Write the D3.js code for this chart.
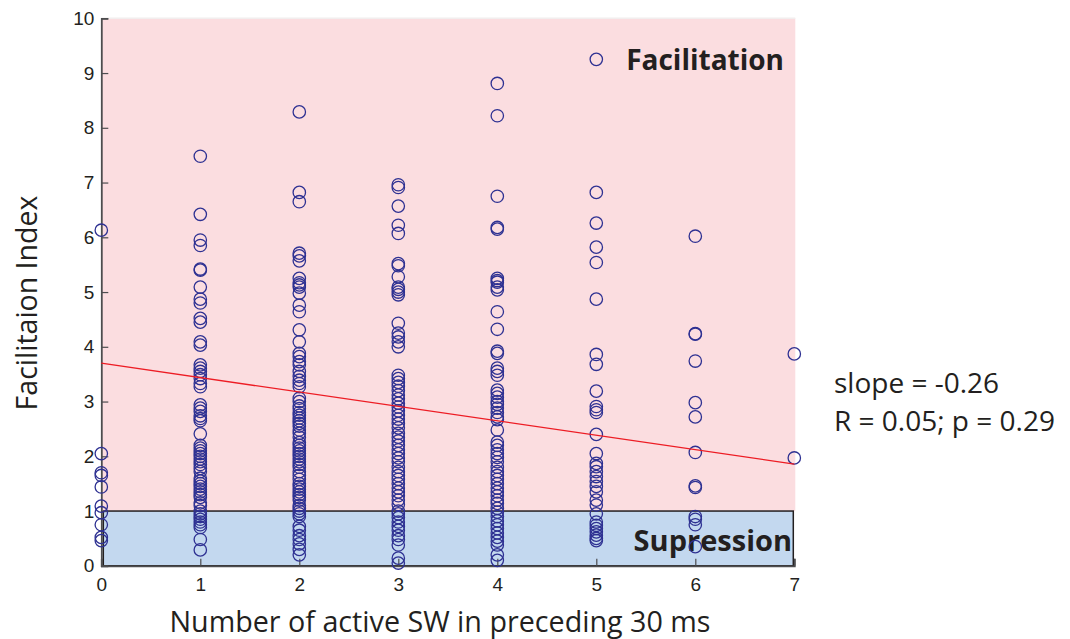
<!DOCTYPE html>
<html>
<head>
<meta charset="utf-8">
<script src="https://cdn.jsdelivr.net/npm/d3@7"></script>
<style>
  body { margin: 0; background: #fff; }
  svg { display: block; }
</style>
</head>
<body>
<svg id="chart" width="1070" height="639"></svg>
<script>
// x = number of active SW in preceding 30 ms, values = facilitation index
let xCounts = [0, 1, 2, 3, 4, 5, 6, 7];
let xTicks = [0, 1, 2, 3, 4, 5, 6, 7];
let yTicks = [0, 1, 2, 3, 4, 5, 6, 7, 8, 9, 10];

let fi0 = [6.13, 2.05, 1.70, 1.65, 1.44, 1.09, 0.97, 0.75, 0.52, 0.46];
let fi1 = [7.48, 6.42, 5.95, 5.85, 5.42, 5.40, 5.09, 4.87, 4.80, 4.52, 4.45, 4.09, 4.03,
  3.67, 3.61, 3.55, 3.49, 3.42, 3.33, 3.27, 2.94, 2.88, 2.82, 2.74, 2.69, 2.65, 2.41,
  2.20, 2.15, 2.10, 2.05, 2.00, 1.95, 1.90, 1.85, 1.78, 1.72, 1.60, 1.55, 1.50, 1.45,
  1.40, 1.35, 1.30, 1.25, 1.15, 1.10, 1.00, 0.95, 0.90, 0.85, 0.80, 0.75, 0.70, 0.48, 0.29];
let fi2 = [8.29, 6.82, 6.65, 5.71, 5.66, 5.57, 5.25, 5.17, 5.13, 5.09, 4.98, 4.76, 4.64,
  4.31, 4.09, 3.88, 3.82, 3.73, 3.67, 3.55, 3.46, 3.39, 3.33, 3.27, 3.06, 3.00, 2.92,
  2.87, 2.80, 2.75, 2.70, 2.65, 2.60, 2.55, 2.48, 2.42, 2.35, 2.25, 2.20, 2.15, 2.10,
  2.05, 2.00, 1.95, 1.90, 1.85, 1.80, 1.72, 1.65, 1.58, 1.50, 1.45, 1.40, 1.35, 1.30,
  1.25, 1.20, 1.10, 1.05, 1.00, 0.95, 0.90, 0.72, 0.65, 0.55, 0.48, 0.40, 0.30, 0.20];
let fi3 = [6.96, 6.91, 6.57, 6.22, 6.07, 5.52, 5.48, 5.28, 5.09, 5.05, 5.00, 4.95, 4.43,
  4.25, 4.18, 4.09, 4.00, 3.48, 3.42, 3.35, 3.28, 3.20, 3.12, 3.05, 2.97, 2.90, 2.83,
  2.75, 2.68, 2.60, 2.52, 2.42, 2.35, 2.28, 2.20, 2.12, 2.05, 1.97, 1.90, 1.80, 1.72,
  1.65, 1.58, 1.50, 1.42, 1.35, 1.28, 1.20, 1.12, 1.00, 0.95, 0.88, 0.80, 0.72, 0.65,
  0.55, 0.48, 0.38, 0.14, 0.05];
let fi4 = [8.81, 8.22, 6.75, 6.18, 6.15, 5.25, 5.21, 5.18, 5.09, 5.04, 4.64, 4.32, 3.92,
  3.88, 3.61, 3.55, 3.48, 3.21, 3.15, 3.08, 3.00, 2.95, 2.88, 2.80, 2.72, 2.67, 2.48,
  2.26, 2.20, 2.12, 2.05, 1.98, 1.90, 1.80, 1.72, 1.65, 1.58, 1.50, 1.42, 1.35, 1.28,
  1.20, 1.14, 1.05, 0.98, 0.90, 0.82, 0.75, 0.68, 0.60, 0.52, 0.45, 0.38, 0.20, 0.10];
let fi5 = [9.25, 6.82, 6.26, 5.82, 5.54, 4.87, 3.86, 3.68, 3.19, 2.91, 2.85, 2.80, 2.40,
  2.05, 1.87, 1.81, 1.72, 1.63, 1.54, 1.45, 1.35, 1.20, 1.11, 0.95, 0.80, 0.74, 0.68,
  0.62, 0.56, 0.50, 0.46];
let fi6 = [6.02, 4.24, 4.23, 3.74, 2.98, 2.72, 2.07, 1.46, 1.43, 0.90, 0.85, 0.75, 0.35];
let fi7 = [3.87, 1.97];

// linear fit shown in the figure
let fitIntercept = 3.70;
let fitSlope = -0.263;
let statLines = ["slope = -0.26", "R = 0.05; p = 0.29"];

let columns = [fi0, fi1, fi2, fi3, fi4, fi5, fi6, fi7];
let points = [];
columns.forEach((vals, i) => {
  vals.forEach(v => points.push({ n: xCounts[i], fi: v }));
});

let svg = d3.select("#chart");

let x = d3.scaleLinear().domain([0, 7]).range([101.3, 794.3]);
let y = d3.scaleLinear().domain([0, 10]).range([565.8, 18.3]);

// background bands
svg.append("rect")
  .attr("x", x(0)).attr("y", y(10))
  .attr("width", x(7) - x(0) + 1).attr("height", y(1) - y(10))
  .attr("fill", "#fbdde0");
svg.append("line")
  .attr("x1", x(0)).attr("x2", x(7) + 1)
  .attr("y1", y(10)).attr("y2", y(10))
  .attr("stroke", "#f2eeee").attr("stroke-width", 1.5);
svg.append("rect")
  .attr("x", x(0) + 2).attr("y", y(1))
  .attr("width", x(7) - x(0) - 3).attr("height", y(0) - y(1))
  .attr("fill", "#c3d8ef")
  .attr("stroke", "#231f20").attr("stroke-width", 1.5);

// labels inside the bands
svg.append("text")
  .attr("x", 784).attr("y", 70)
  .attr("text-anchor", "end")
  .attr("font-family", "'Open Sans', sans-serif")
  .attr("font-weight", "bold")
  .attr("font-size", 28)
  .attr("fill", "#231f20")
  .text("Facilitation");
svg.append("text")
  .attr("x", 792).attr("y", 551)
  .attr("text-anchor", "end")
  .attr("font-family", "'Open Sans', sans-serif")
  .attr("font-weight", "bold")
  .attr("font-size", 29)
  .attr("fill", "#231f20")
  .text("Supression");

// axes, ticks pointing inward
let xAxis = d3.axisBottom(x).tickValues(xTicks).tickSize(-7).tickPadding(12).tickFormat(d3.format("d"));
let yAxis = d3.axisLeft(y).tickValues(yTicks).tickSize(-7).tickPadding(7).tickFormat(d3.format("d"));

let gx = svg.append("g").attr("transform", `translate(0,${y(0)})`).call(xAxis);
let gy = svg.append("g").attr("transform", `translate(${x(0)},0)`).call(yAxis);

[gx, gy].forEach(g => {
  g.select(".domain").attr("stroke", "#4d4d4f").attr("stroke-width", 1.8);
  g.selectAll(".tick line").attr("stroke", "#4d4d4f").attr("stroke-width", 1.2);
  g.selectAll(".tick text")
    .attr("font-family", "'Liberation Sans', Arial, sans-serif")
    .attr("font-size", 19)
    .attr("fill", "#231f20");
});
gx.selectAll(".tick text").attr("dy", "0.71em");

// scatter points
svg.append("g").selectAll("circle")
  .data(points)
  .join("circle")
  .attr("cx", d => x(d.n))
  .attr("cy", d => y(d.fi))
  .attr("r", 6.2)
  .attr("fill", "none")
  .attr("stroke", "#2e3192")
  .attr("stroke-width", 1.3);

// regression line
let fitLine = d3.line()
  .x(d => x(d))
  .y(d => y(fitIntercept + fitSlope * d));
svg.append("path")
  .datum([0, 7])
  .attr("d", fitLine)
  .attr("fill", "none")
  .attr("stroke", "#ed1c24")
  .attr("stroke-width", 1.3);

// stats text
svg.append("g").selectAll("text")
  .data(statLines)
  .join("text")
  .attr("x", 834)
  .attr("y", (d, i) => 393 + i * 38)
  .attr("font-family", "'Open Sans', sans-serif")
  .attr("font-size", 28)
  .attr("fill", "#231f20")
  .text(d => d);

// axis titles
svg.append("text")
  .attr("x", 440)
  .attr("y", 632)
  .attr("text-anchor", "middle")
  .attr("font-family", "'Open Sans', sans-serif")
  .attr("font-size", 28.7)
  .attr("fill", "#231f20")
  .text("Number of active SW in preceding 30 ms");
svg.append("text")
  .attr("transform", "translate(37,303) rotate(-90)")
  .attr("text-anchor", "middle")
  .attr("font-family", "'Open Sans', sans-serif")
  .attr("font-size", 28.5)
  .attr("fill", "#231f20")
  .text("Facilitaion Index");
</script>
</body>
</html>
